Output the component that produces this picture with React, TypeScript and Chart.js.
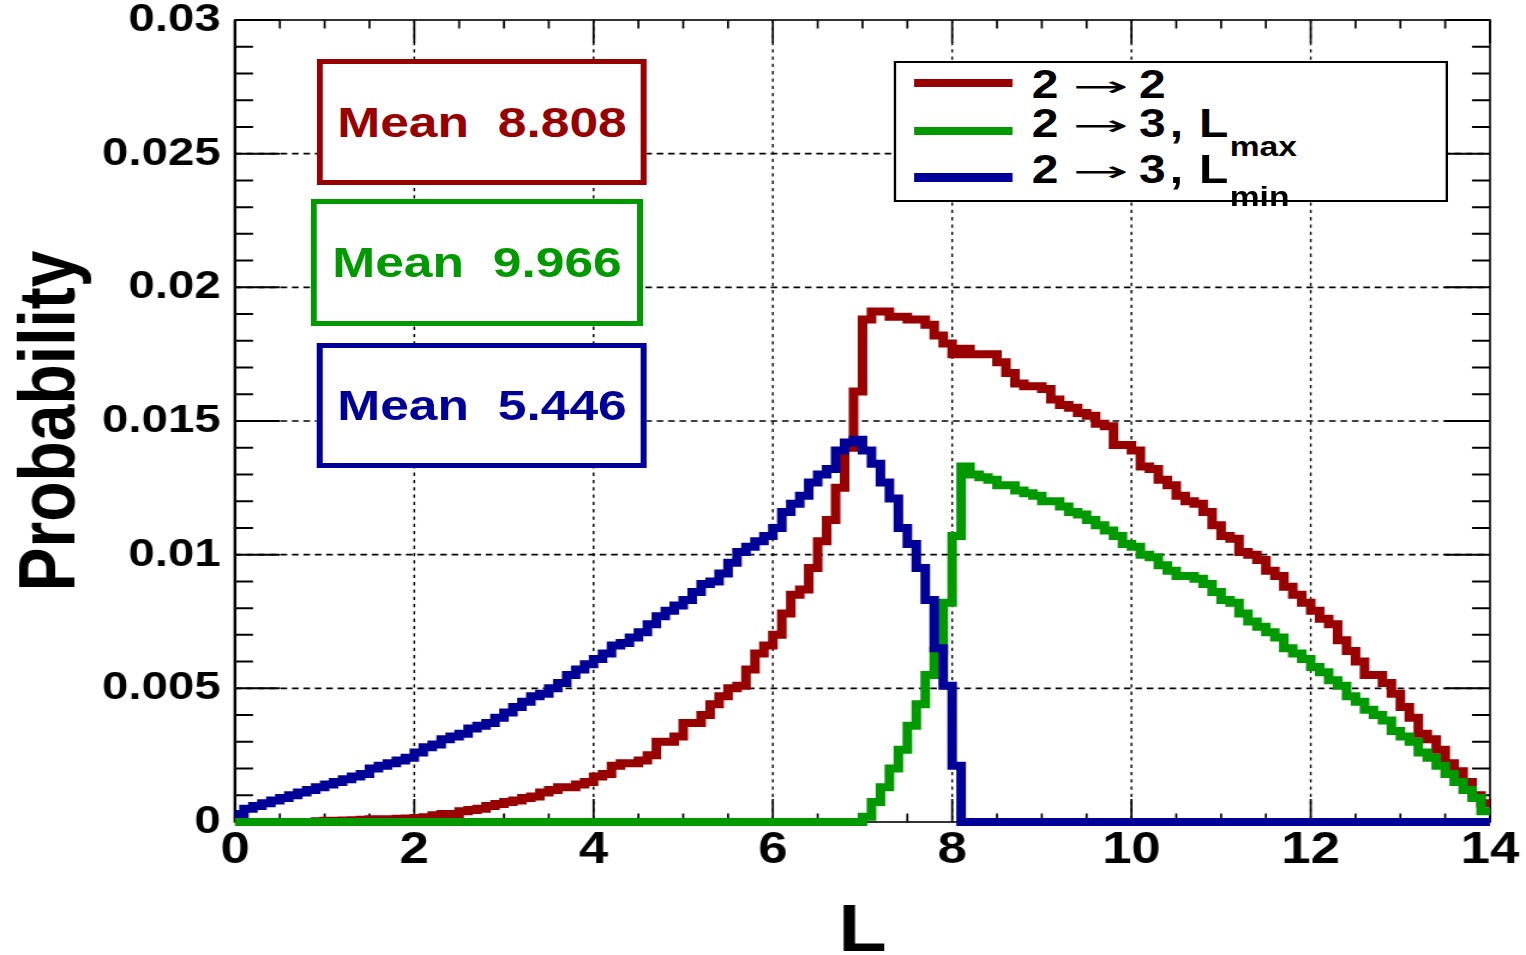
import React, { useEffect, useRef } from 'react';
import { Chart, registerables } from 'chart.js';

Chart.register(...registerables);

// ---------------- data ----------------
const BIN_WIDTH = 0.1;
const X_MIN = 0;
const X_MAX = 14;
const Y_MIN = 0;
const Y_MAX = 0.03;

const xTickValues = [0, 2, 4, 6, 8, 10, 12, 14];
const xTickLabels = ['0', '2', '4', '6', '8', '10', '12', '14'];
const yTickValues = [0, 0.005, 0.01, 0.015, 0.02, 0.025, 0.03];
const yTickLabels = ['0', '0.005', '0.01', '0.015', '0.02', '0.025', '0.03'];

const xAxisTitle = 'L';
const yAxisTitle = 'Probability';

const seriesColors = ['#990000', '#009900', '#000099'];
const meanLabels = ['Mean  8.808', 'Mean  9.966', 'Mean  5.446'];

// 2 -> 2
const prob22 = [
  0, 0, 0, 0, 0, 0, 0, 0, 0, 0.00003,
  0.00005, 0.00005, 0.00006, 0.00007, 0.00008, 0.0001, 0.0001, 0.0001, 0.00012, 0.00013,
  0.00015, 0.00018, 0.00025, 0.0003, 0.0003, 0.0004, 0.00045, 0.0005, 0.0006, 0.00067,
  0.00075, 0.0008, 0.0009, 0.00095, 0.0011, 0.0012, 0.0013, 0.0013, 0.0014, 0.0015,
  0.0017, 0.0018, 0.0021, 0.0022, 0.0022, 0.0023, 0.0025, 0.003, 0.003, 0.0032,
  0.0037, 0.0037, 0.004, 0.0044, 0.0047, 0.005, 0.0051, 0.0057, 0.0063, 0.0066,
  0.007, 0.0078, 0.0085, 0.0087, 0.0095, 0.0105, 0.0113, 0.0125, 0.014, 0.0161,
  0.0188, 0.0191, 0.0191, 0.0189, 0.0189, 0.0188, 0.0188, 0.0186, 0.0182, 0.0179,
  0.0175, 0.0177, 0.0175, 0.0175, 0.0175, 0.0172, 0.0168, 0.0164, 0.0163, 0.0163,
  0.0162, 0.0158, 0.0156, 0.0155, 0.0153, 0.0152, 0.0149, 0.0148, 0.0141, 0.0141,
  0.0139, 0.0133, 0.0132, 0.0128, 0.0126, 0.0122, 0.012, 0.0119, 0.0116, 0.0111,
  0.0107, 0.0106, 0.0101, 0.01, 0.0098, 0.0094, 0.0092, 0.0088, 0.0085, 0.0082,
  0.0079, 0.0076, 0.0074, 0.0068, 0.0064, 0.006, 0.0055, 0.0055, 0.0052, 0.0048,
  0.0043, 0.0039, 0.0033, 0.0031, 0.0027, 0.0022, 0.0019, 0.0015, 0.001, 0.0007,
];

// 2 -> 3, L_max
const prob23Max = [
  0, 0, 0, 0, 0, 0, 0, 0, 0, 0,
  0, 0, 0, 0, 0, 0, 0, 0, 0, 0,
  0, 0, 0, 0, 0, 0, 0, 0, 0, 0,
  0, 0, 0, 0, 0, 0, 0, 0, 0, 0,
  0, 0, 0, 0, 0, 0, 0, 0, 0, 0,
  0, 0, 0, 0, 0, 0, 0, 0, 0, 0,
  0, 0, 0, 0, 0, 0, 0, 0, 0, 0,
  0.0002, 0.00075, 0.0013, 0.002, 0.0027, 0.0036, 0.0044, 0.0055, 0.0064, 0.0082,
  0.0107, 0.0133, 0.013, 0.0129, 0.0128, 0.0126, 0.0126, 0.0124, 0.0123, 0.0122,
  0.012, 0.012, 0.0118, 0.0116, 0.0115, 0.0113, 0.0111, 0.0109, 0.0107, 0.0104,
  0.0103, 0.01, 0.0099, 0.0096, 0.0094, 0.0092, 0.0092, 0.0091, 0.0089, 0.0086,
  0.0083, 0.0082, 0.0078, 0.0075, 0.0073, 0.0071, 0.0069, 0.0065, 0.0063, 0.0061,
  0.0058, 0.0056, 0.0053, 0.0051, 0.0047, 0.0045, 0.0042, 0.004, 0.0038, 0.0034,
  0.0032, 0.003, 0.0026, 0.0024, 0.0021, 0.0018, 0.0015, 0.0012, 0.0009, 0.0004,
];

// 2 -> 3, L_min
const prob23Min = [
  0.0003, 0.0005, 0.0006, 0.0007, 0.0008, 0.0009, 0.001, 0.0011, 0.0012, 0.0013,
  0.0014, 0.0015, 0.0016, 0.0017, 0.0018, 0.002, 0.0021, 0.0022, 0.0023, 0.0024,
  0.0026, 0.0028, 0.0029, 0.0031, 0.0032, 0.0033, 0.0035, 0.0036, 0.0037, 0.0039,
  0.0041, 0.0043, 0.0045, 0.0047, 0.0048, 0.005, 0.0052, 0.0055, 0.0057, 0.0059,
  0.0061, 0.0063, 0.0066, 0.0067, 0.0069, 0.0071, 0.0074, 0.0077, 0.0079, 0.0081,
  0.0083, 0.0086, 0.0089, 0.009, 0.0093, 0.0097, 0.0101, 0.0103, 0.0105, 0.0107,
  0.011, 0.0116, 0.0119, 0.0122, 0.0127, 0.013, 0.0132, 0.0139, 0.0142, 0.0143,
  0.0139, 0.0134, 0.0127, 0.0121, 0.011, 0.0104, 0.0095, 0.0083, 0.0065, 0.0051,
  0.0021, 0, 0, 0, 0, 0, 0, 0, 0, 0,
  0, 0, 0, 0, 0, 0, 0, 0, 0, 0,
  0, 0, 0, 0, 0, 0, 0, 0, 0, 0,
  0, 0, 0, 0, 0, 0, 0, 0, 0, 0,
  0, 0, 0, 0, 0, 0, 0, 0, 0, 0,
  0, 0, 0, 0, 0, 0, 0, 0, 0, 0,
];

// ---------------- layout ----------------
const PAGE_W = 1526;
const PAGE_H = 955;
const BASE_W = 1272; // drawn at this width, then stretched horizontally like the reference
const SX = PAGE_W / BASE_W;

const PLOT_LEFT = 235 / SX;
const PLOT_RIGHT = 1490 / SX;
const PLOT_TOP = 20;
const PLOT_BOTTOM = 822;

const FONT = '"Liberation Sans", Arial, Helvetica, sans-serif';

function histPoints(values: number[]) {
  const pts = values.map((v, i) => ({ x: Math.round(i * BIN_WIDTH * 1000) / 1000, y: v }));
  pts.push({ x: Math.round(values.length * BIN_WIDTH * 1000) / 1000, y: values[values.length - 1] });
  return pts;
}

const rootFramePlugin = {
  id: 'rootFrame',
  beforeDatasetsDraw(chart: any) {
    const { ctx, chartArea: a, scales } = chart;
    const x = scales.x;
    const y = scales.y;
    ctx.save();
    ctx.strokeStyle = '#000';

    // vertical dotted grid
    ctx.lineWidth = 1.4;
    ctx.setLineDash([3.3, 4]);
    for (const v of xTickValues) {
      if (v <= X_MIN || v >= X_MAX) continue;
      const px = x.getPixelForValue(v);
      ctx.beginPath();
      ctx.moveTo(px, a.top);
      ctx.lineTo(px, a.bottom);
      ctx.stroke();
    }
    // horizontal dashed grid
    ctx.lineWidth = 1.6;
    ctx.setLineDash([5.5, 4]);
    for (const v of yTickValues) {
      if (v <= Y_MIN || v >= Y_MAX) continue;
      const py = y.getPixelForValue(v);
      ctx.beginPath();
      ctx.moveTo(a.left, py);
      ctx.lineTo(a.right, py);
      ctx.stroke();
    }
    ctx.setLineDash([]);

    // x ticks (bottom and top)
    ctx.lineWidth = 1.7;
    const nx = Math.round((X_MAX - X_MIN) / 0.5);
    for (let i = 0; i <= nx; i++) {
      const v = X_MIN + i * 0.5;
      const major = Math.abs(v / 2 - Math.round(v / 2)) < 1e-6;
      const len = major ? 23 : 8.5;
      const px = x.getPixelForValue(v);
      ctx.beginPath();
      ctx.moveTo(px, a.bottom);
      ctx.lineTo(px, a.bottom - len);
      ctx.moveTo(px, a.top);
      ctx.lineTo(px, a.top + len);
      ctx.stroke();
    }
    // y ticks (left and right)
    ctx.lineWidth = 2;
    const ny = Math.round((Y_MAX - Y_MIN) / 0.001);
    for (let i = 0; i <= ny; i++) {
      const v = Y_MIN + i * 0.001;
      const major = i % 5 === 0;
      const len = major ? 37.5 : 15;
      const py = y.getPixelForValue(v);
      ctx.beginPath();
      ctx.moveTo(a.left, py);
      ctx.lineTo(a.left + len, py);
      ctx.moveTo(a.right, py);
      ctx.lineTo(a.right - len, py);
      ctx.stroke();
    }

    // frame
    ctx.lineWidth = 1.6;
    ctx.strokeRect(a.left, a.top, a.right - a.left, a.bottom - a.top);
    ctx.lineWidth = 2.4;
    ctx.beginPath();
    ctx.moveTo(a.left, a.top);
    ctx.lineTo(a.left, a.bottom);
    ctx.stroke();
    ctx.restore();
  },
};

function MeanBox(props: { left: number; top: number; width: number; height: number; color: string; text: string }) {
  const { left, top, width, height, color, text } = props;
  return (
    <div
      style={{
        position: 'absolute',
        left,
        top,
        width,
        height,
        boxSizing: 'border-box',
        border: `5.6px solid ${color}`,
        background: '#fff',
        display: 'flex',
        alignItems: 'center',
        justifyContent: 'center',
        color,
        fontFamily: FONT,
        fontWeight: 'bold',
        fontSize: 43,
        lineHeight: '43px',
        whiteSpace: 'pre',
      }}
    >
      {text}
    </div>
  );
}

function Tok(props: { left: number; cy: number; children: React.ReactNode; size?: number }) {
  const size = props.size ?? 40;
  return (
    <span
      style={{
        position: 'absolute',
        left: props.left,
        top: props.cy - size * 0.488,
        fontFamily: FONT,
        fontWeight: 'bold',
        fontSize: size,
        lineHeight: `${size}px`,
        color: '#000',
        whiteSpace: 'pre',
      }}
    >
      {props.children}
    </span>
  );
}

function Arrow(props: { left: number; cy: number }) {
  return (
    <span
      style={{
        position: 'absolute',
        left: props.left,
        top: props.cy - 15,
        fontFamily: '"DejaVu Sans", sans-serif',
        fontWeight: 'normal',
        fontSize: 28,
        lineHeight: '28px',
        color: '#000',
        display: 'inline-block',
        transform: 'scaleX(2.0)',
        transformOrigin: '0 0',
        whiteSpace: 'pre',
      }}
    >
      →
    </span>
  );
}

function Legend() {
  const rows = [
    { cy: 84, lineY: 83, last: '2', sub: '', subDy: 0 },
    { cy: 122.5, lineY: 131, last: '3', sub: 'max', subDy: 18 },
    { cy: 169, lineY: 177.5, last: '3', sub: 'min', subDy: 22 },
  ];
  return (
    <>
      <div
        style={{
          position: 'absolute',
          left: 893.6 / SX,
          top: 60.5,
          width: (1448 - 893.6) / SX,
          height: 141,
          boxSizing: 'border-box',
          border: '2.2px solid #000',
          background: '#fff',
        }}
      />
      {rows.map((r, i) => (
        <React.Fragment key={i}>
          <div
            style={{
              position: 'absolute',
              left: 914.7 / SX,
              top: r.lineY - 4.25,
              width: (1012.9 - 914.7) / SX,
              height: 8.5,
              background: seriesColors[i],
            }}
          />
          <Tok left={860} cy={r.cy}>2</Tok>
          <Arrow left={894} cy={r.cy + 4} />
          <Tok left={949.5} cy={r.cy}>{r.last}</Tok>
          {r.sub ? (
            <>
              <Tok left={975} cy={r.cy}>,</Tok>
              <Tok left={999.5} cy={r.cy}>L</Tok>
              <Tok left={1025} cy={r.cy + r.subDy + 6} size={28}>{r.sub}</Tok>
            </>
          ) : null}
        </React.Fragment>
      ))}
    </>
  );
}

export default function App() {
  const canvasRef = useRef<HTMLCanvasElement | null>(null);

  useEffect(() => {
    if (!canvasRef.current) return;
    const datasets = [
      { label: '2 → 3, L_min', values: prob23Min, color: seriesColors[2], order: 0 },
      { label: '2 → 3, L_max', values: prob23Max, color: seriesColors[1], order: 1 },
      { label: '2 → 2', values: prob22, color: seriesColors[0], order: 2 },
    ].map((s) => ({
      label: s.label,
      data: histPoints(s.values),
      borderColor: s.color,
      backgroundColor: s.color,
      borderWidth: 8,
      stepped: true as const,
      pointRadius: 0,
      pointHoverRadius: 0,
      fill: false,
      tension: 0,
      borderJoinStyle: 'miter' as const,
      borderCapStyle: 'butt' as const,
      order: s.order,
      clip: 6,
    }));

    const chart = new Chart(canvasRef.current, {
      type: 'line',
      data: { datasets },
      plugins: [rootFramePlugin],
      options: {
        animation: false,
        responsive: true,
        maintainAspectRatio: false,
        devicePixelRatio: 1,
        events: [],
        layout: { padding: { top: PLOT_TOP, right: BASE_W - PLOT_RIGHT, bottom: 0, left: 0 } },
        plugins: { legend: { display: false }, tooltip: { enabled: false }, title: { display: false } },
        scales: {
          x: {
            type: 'linear',
            min: X_MIN,
            max: X_MAX,
            grid: { display: false, drawTicks: false },
            border: { display: false },
            afterBuildTicks: (scale: any) => {
              scale.ticks = xTickValues.map((v) => ({ value: v }));
            },
            afterFit: (scale: any) => {
              scale.height = PAGE_H - PLOT_BOTTOM;
              scale.paddingLeft = 0;
              scale.paddingRight = 0;
            },
            ticks: {
              autoSkip: false,
              maxRotation: 0,
              minRotation: 0,
              padding: 7,
              color: '#000',
              font: { family: FONT, weight: 'bold', size: 44, lineHeight: 1 },
              callback: (_v: any, i: number) => xTickLabels[i],
            },
            title: {
              display: true,
              text: xAxisTitle,
              color: '#000',
              font: { family: FONT, weight: 'bold', size: 66, lineHeight: 1 },
              padding: { top: 0, bottom: -11 },
            },
          },
          y: {
            type: 'linear',
            min: Y_MIN,
            max: Y_MAX,
            grid: { display: false, drawTicks: false },
            border: { display: false },
            afterBuildTicks: (scale: any) => {
              scale.ticks = yTickValues.map((v) => ({ value: v }));
            },
            afterFit: (scale: any) => {
              scale.width = PLOT_LEFT;
              scale.paddingTop = 0;
              scale.paddingBottom = 0;
            },
            ticks: {
              autoSkip: false,
              padding: 12,
              color: '#000',
              font: { family: FONT, weight: 'bold', size: 39.5, lineHeight: 1 },
              callback: (_v: any, i: number) => yTickLabels[i],
            },
            title: {
              display: true,
              text: yAxisTitle,
              color: '#000',
              font: { family: FONT, weight: 'bold', size: 66, lineHeight: 1 },
              padding: { top: 10.5, bottom: 0 },
            },
          },
        },
      } as any,
    });
    return () => chart.destroy();
  }, []);

  return (
    <div style={{ position: 'fixed', left: 0, top: 0, width: PAGE_W, height: PAGE_H, background: '#fff', overflow: 'hidden' }}>
      <div
        style={{
          position: 'absolute',
          left: 0,
          top: 0,
          width: BASE_W,
          height: PAGE_H,
          transform: `scaleX(${SX})`,
          transformOrigin: '0 0',
        }}
      >
        <canvas ref={canvasRef} />
        <MeanBox left={317 / SX} top={59} width={330 / SX} height={126} color={seriesColors[0]} text={meanLabels[0]} />
        <MeanBox left={311 / SX} top={199} width={332 / SX} height={127} color={seriesColors[1]} text={meanLabels[1]} />
        <MeanBox left={317 / SX} top={342.7} width={330 / SX} height={125.6} color={seriesColors[2]} text={meanLabels[2]} />
        <Legend />
      </div>
    </div>
  );
}
